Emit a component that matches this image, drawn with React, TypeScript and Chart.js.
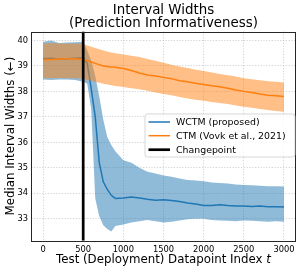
import React, { useEffect, useRef } from "react";
import { Chart, registerables } from "chart.js";

Chart.register(...registerables);

const T = [0, 100, 200, 300, 400, 500, 550, 600, 650, 700, 750, 800, 850, 900, 1000, 1100, 1200, 1300, 1400, 1500, 1600, 1700, 1800, 1900, 2000, 2100, 2200, 2300, 2400, 2500, 2600, 2700, 2800, 2900, 3000];

const WCTM_MED = [39.28, 39.3, 39.27, 39.28, 39.3, 39.32, 39.1, 38.1, 37.0, 35.2, 34.45, 34.15, 33.92, 33.8, 33.82, 33.85, 33.82, 33.77, 33.73, 33.75, 33.72, 33.68, 33.62, 33.58, 33.52, 33.52, 33.55, 33.52, 33.5, 33.5, 33.48, 33.5, 33.47, 33.47, 33.46];
const WCTM_HI = [39.95, 40.0, 39.9, 39.92, 39.93, 39.95, 39.6, 39.2, 38.6, 37.8, 36.9, 36.2, 35.9, 35.65, 35.3, 35.2, 35.0, 34.85, 34.78, 34.7, 34.65, 34.58, 34.52, 34.5, 34.47, 34.42, 34.4, 34.38, 34.35, 34.33, 34.32, 34.3, 34.28, 34.28, 34.27];
const WCTM_LO = [38.47, 38.45, 38.47, 38.47, 38.45, 38.38, 38.3, 37.3, 33.8, 33.1, 32.75, 32.6, 32.5, 32.72, 32.78, 32.85, 32.9, 32.95, 32.9, 32.85, 32.88, 32.93, 32.98, 33.0, 33.0, 32.95, 32.93, 32.92, 32.9, 32.93, 32.92, 32.9, 32.88, 32.9, 32.88];

const CTM_MED = [39.25, 39.25, 39.27, 39.28, 39.28, 39.25, 39.2, 39.15, 39.1, 39.05, 39.0, 38.98, 38.96, 38.95, 38.9, 38.82, 38.72, 38.64, 38.6, 38.55, 38.5, 38.42, 38.38, 38.32, 38.27, 38.22, 38.18, 38.12, 38.05, 38.0, 37.96, 37.9, 37.85, 37.83, 37.8];
const CTM_HI = [39.88, 39.9, 39.88, 39.88, 39.88, 39.87, 39.8, 39.75, 39.7, 39.65, 39.6, 39.57, 39.53, 39.5, 39.45, 39.4, 39.35, 39.27, 39.2, 39.12, 39.05, 38.98, 38.92, 38.85, 38.8, 38.74, 38.68, 38.63, 38.58, 38.52, 38.48, 38.44, 38.4, 38.38, 38.35];
const CTM_LO = [38.52, 38.52, 38.53, 38.52, 38.52, 38.5, 38.45, 38.42, 38.38, 38.34, 38.3, 38.27, 38.24, 38.21, 38.17, 38.12, 38.08, 38.02, 37.96, 37.9, 37.85, 37.78, 37.72, 37.67, 37.63, 37.58, 37.54, 37.5, 37.45, 37.4, 37.36, 37.31, 37.27, 37.23, 37.2];

const CHANGEPOINT = 500;
const X_TICKS = [0, 500, 1000, 1500, 2000, 2500, 3000];
const Y_TICKS = [33, 34, 35, 36, 37, 38, 39, 40];
const X_MIN = -150, X_MAX = 3150;
const Y_MIN = 32.14, Y_MAX = 40.35;

const TITLE = ["Interval Widths", "(Prediction Informativeness)"];
const X_LABEL = "Test (Deployment) Datapoint Index ";
const X_LABEL_ITALIC = "t";
const Y_LABEL = "Median Interval Widths (\u2190)";
const LEGEND = ["WCTM (proposed)", "CTM (Vovk et al., 2021)", "Changepoint"];

const BLUE = "#1f77b4";
const ORANGE = "#ff7f0e";
const FONT = "'DejaVu Sans', sans-serif";

const pts = (ys: number[]) => T.map((x, i) => ({ x, y: ys[i] }));

export default function App() {
  const ref = useRef<HTMLCanvasElement | null>(null);
  useEffect(() => {
    document.body.style.margin = "0";
    const canvas = ref.current!;
    const decor = {
      id: "decor",
      afterDraw(chart: any) {
        const ctx = chart.ctx;
        const a = chart.chartArea;
        ctx.save();
        // frame
        ctx.strokeStyle = "#262626";
        ctx.lineWidth = 1;
        ctx.strokeRect(Math.round(a.left) + 0.5, Math.round(a.top) + 0.5, Math.round(a.right - a.left) - 1, Math.round(a.bottom - a.top));
        // title
        ctx.fillStyle = "#000";
        ctx.textAlign = "center";
        ctx.textBaseline = "alphabetic";
        ctx.font = `13.4px ${FONT}`;
        const cx = (a.left + a.right) / 2;
        ctx.fillText(TITLE[0], cx, 14);
        ctx.fillText(TITLE[1], cx, 27);
        // x label
        ctx.font = `11.8px ${FONT}`;
        const w1 = ctx.measureText(X_LABEL).width;
        ctx.font = `italic 11.8px ${FONT}`;
        const w2 = ctx.measureText(X_LABEL_ITALIC).width;
        const sx = cx - (w1 + w2) / 2;
        ctx.textAlign = "left";
        ctx.font = `11.8px ${FONT}`;
        ctx.fillText(X_LABEL, sx, 263);
        ctx.font = `italic 11.8px ${FONT}`;
        ctx.fillText(X_LABEL_ITALIC, sx + w1, 263);
        // y label
        ctx.save();
        ctx.translate(13.5, (a.top + a.bottom) / 2);
        ctx.rotate(-Math.PI / 2);
        ctx.textAlign = "center";
        ctx.font = `11.8px ${FONT}`;
        ctx.fillText(Y_LABEL, 0, 0);
        ctx.restore();
        // legend
        const lx = 145, ly = 114, lw = 150, lh = 43;
        ctx.beginPath();
        const r = 2.5;
        ctx.moveTo(lx + r, ly);
        ctx.arcTo(lx + lw, ly, lx + lw, ly + lh, r);
        ctx.arcTo(lx + lw, ly + lh, lx, ly + lh, r);
        ctx.arcTo(lx, ly + lh, lx, ly, r);
        ctx.arcTo(lx, ly, lx + lw, ly, r);
        ctx.closePath();
        ctx.fillStyle = "rgba(255,255,255,0.8)";
        ctx.fill();
        ctx.strokeStyle = "rgba(204,204,204,0.8)";
        ctx.lineWidth = 1;
        ctx.stroke();
        const colors = [BLUE, ORANGE, "#000"];
        const widths = [1.5, 1.5, 2.7];
        const rows = [122, 135.7, 149.7];
        ctx.font = `9.4px ${FONT}`;
        ctx.textAlign = "left";
        ctx.textBaseline = "middle";
        LEGEND.forEach((txt, i) => {
          ctx.beginPath();
          ctx.strokeStyle = colors[i];
          ctx.lineWidth = widths[i];
          ctx.moveTo(148.5, rows[i]);
          ctx.lineTo(170, rows[i]);
          ctx.stroke();
          ctx.fillStyle = "#000";
          ctx.fillText(txt, 176, rows[i] + 0.5);
        });
        ctx.restore();
      },
    };
    const chart = new Chart(canvas, {
      type: "line",
      data: {
        datasets: [
          { data: pts(WCTM_HI), borderWidth: 0, pointRadius: 0, fill: false, order: 6, borderColor: "rgba(0,0,0,0)" },
          { data: pts(WCTM_LO), borderWidth: 0, pointRadius: 0, fill: "-1", backgroundColor: "rgba(31,119,180,0.5)", order: 6, borderColor: "rgba(0,0,0,0)" },
          { data: pts(WCTM_MED), borderWidth: 1.5, pointRadius: 0, fill: false, borderColor: BLUE, order: 5 },
          { data: pts(CTM_HI), borderWidth: 0, pointRadius: 0, fill: false, order: 4, borderColor: "rgba(0,0,0,0)" },
          { data: pts(CTM_LO), borderWidth: 0, pointRadius: 0, fill: "-1", backgroundColor: "rgba(255,127,14,0.5)", order: 4, borderColor: "rgba(0,0,0,0)" },
          { data: pts(CTM_MED), borderWidth: 1.5, pointRadius: 0, fill: false, borderColor: ORANGE, order: 3 },
          { data: [{ x: CHANGEPOINT, y: Y_MIN }, { x: CHANGEPOINT, y: Y_MAX }], borderWidth: 2.7, pointRadius: 0, fill: false, borderColor: "#000", order: 1 },
        ] as any,
      },
      options: {
        animation: false,
        responsive: false,
        devicePixelRatio: 1,
        layout: { padding: { top: 31.5, left: 0, right: 3, bottom: 0 } },
        plugins: { legend: { display: false }, title: { display: false }, tooltip: { enabled: false } },
        elements: { line: { tension: 0 } },
        scales: {
          x: {
            type: "linear",
            min: X_MIN,
            max: X_MAX,
            afterBuildTicks: (s: any) => { s.ticks = X_TICKS.map((v) => ({ value: v })); },
            afterFit: (s: any) => { s.height = 29.3; },
            grid: { color: "rgba(176,176,176,0.7)", lineWidth: 0.8, drawTicks: false },
            border: { display: false, dash: [1.2, 1.6] },
            ticks: { font: { size: 8.3, family: FONT }, color: "#000", padding: 4, maxRotation: 0, autoSkip: false, callback: (v: any) => String(v) },
          },
          y: {
            type: "linear",
            min: Y_MIN,
            max: Y_MAX,
            afterBuildTicks: (s: any) => { s.ticks = Y_TICKS.map((v) => ({ value: v })); },
            afterFit: (s: any) => { s.width = 31; },
            grid: { color: "rgba(176,176,176,0.7)", lineWidth: 0.8, drawTicks: false },
            border: { display: false, dash: [1.2, 1.6] },
            ticks: { font: { size: 8.3, family: FONT }, color: "#000", padding: 3, autoSkip: false, callback: (v: any) => String(v) },
          },
        },
      } as any,
      plugins: [decor],
    });
    return () => chart.destroy();
  }, []);
  return <canvas ref={ref} width={299} height={270} style={{ display: "block", width: 299, height: 270 }} />;
}
